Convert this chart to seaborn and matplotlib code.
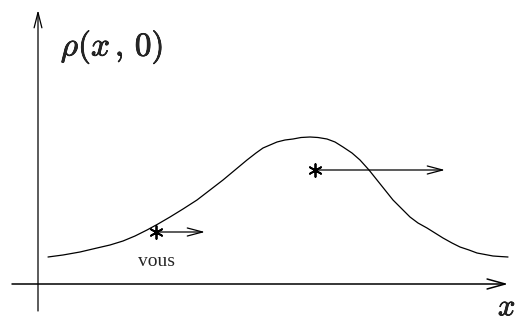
import matplotlib
matplotlib.use("Agg")
import matplotlib.pyplot as plt
import matplotlib.patheffects as pe
import seaborn as sns
import pandas as pd

# Density profile rho(x, 0) sampled along x
x_vals = [10, 25, 42, 59, 72, 85, 97, 109, 120, 132, 145, 159, 172, 185,
          197, 209, 218, 225, 232, 239, 247, 255, 263, 272, 280, 289, 297,
          305, 314, 322, 331, 339, 347, 355, 364, 372, 380, 389, 397, 405,
          414, 422, 431, 439, 447, 455, 462, 470]
rho_vals = [27, 29, 32, 36, 39, 43, 48, 54, 60, 67, 75, 84, 94, 104,
            114, 124, 131, 136, 139, 142, 144, 145, 146.5, 147, 146.5, 145, 142,
            137, 131, 124, 114, 104, 94, 84, 75, 67, 61, 56, 51, 46,
            41, 37, 34, 31, 29.5, 28, 27.5, 27]

# Marked points and where their arrows point to
star_x = [118, 277]
star_rho = [52, 114]
arrow_end_x = [167, 407]

sns.set_theme(style="white")
plt.rcParams["mathtext.fontset"] = "cm"

fig = plt.figure(figsize=(5.15, 3.2), dpi=100)
ax = fig.add_axes([0, 0, 1, 1])
ax.set_xlim(-38, 477)
ax.set_ylim(-36, 284)
ax.axis("off")

df = pd.DataFrame({"x": x_vals, "rho": rho_vals})
sns.lineplot(data=df, x="x", y="rho", ax=ax, color="black", lw=0.9,
             sort=False, legend=False)

def arrow(x0, y0, x1, y1, hl, hw, lw):
    ax.annotate("", xy=(x1, y1), xytext=(x0, y0),
                arrowprops=dict(arrowstyle=f"->,head_length={hl},head_width={hw}",
                                mutation_scale=1, color="black", lw=lw,
                                shrinkA=0, shrinkB=0))

# Coordinate axes
arrow(-26, 0, 470, 0, 13, 3.6, 1.1)
arrow(0, -27, 0, 274, 11, 2.8, 0.9)

# Arrows leaving the marked points
for sx, sy, ex in zip(star_x, star_rho, arrow_end_x):
    arrow(sx, sy, ex, sy, 11, 2.9, 0.9)

sns.scatterplot(x=star_x, y=star_rho, ax=ax, marker=(6, 2, 0), s=85,
                color="black", linewidth=1.3, legend=False, zorder=5)

bold = [pe.withStroke(linewidth=0.5, foreground="black")]
ax.text(74, 237, r"$\rho(x\,,\,0)$", fontsize=24, ha="center", va="center",
        path_effects=bold)
ax.text(469, -23, r"$x$", fontsize=22, ha="center", va="center",
        path_effects=bold)
ax.text(118, 22, "vous", fontsize=14, ha="center", va="center",
        family="Liberation Serif")

fig.savefig("out.png", dpi=100)
